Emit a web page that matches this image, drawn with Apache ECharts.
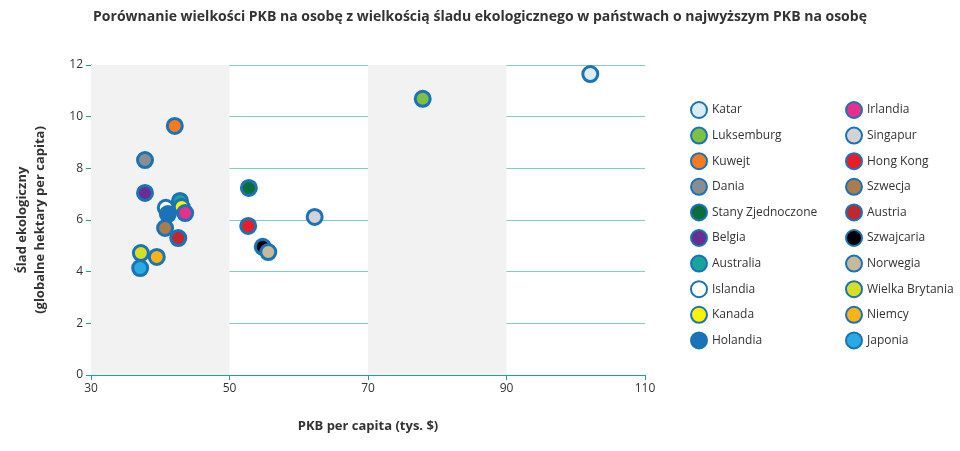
<!DOCTYPE html>
<html><head><meta charset="utf-8">
<script src="https://cdn.jsdelivr.net/npm/echarts@6/dist/echarts.min.js"></script>
<style>html,body{margin:0;padding:0;background:#fff}#c{width:960px;height:451px}</style>
</head><body><div id="c"></div>
<script>
const countries = ['Katar','Luksemburg','Kuwejt','Dania','Stany Zjednoczone','Belgia','Australia','Islandia','Kanada','Holandia','Irlandia','Singapur','Hong Kong','Szwecja','Austria','Szwajcaria','Norwegia','Wielka Brytania','Niemcy','Japonia'];
const gdp = [102.1,77.9,42.1,37.8,52.8,37.8,42.85,40.8,43.1,41.1,43.6,62.3,52.7,40.7,42.6,54.8,55.6,37.2,39.5,37.1];
const footprint = [11.65,10.69,9.64,8.32,7.24,7.05,6.74,6.47,6.5,6.23,6.27,6.12,5.77,5.69,5.3,4.96,4.76,4.72,4.57,4.14];
const fills = ['#dcecf5','#7dc143','#f47b20','#8a8d90','#0b6e3a','#6a2d91','#1aa39a','#ffffff','#fff200','#1a73b8','#e8308a','#d1d3d4','#ed1c24','#a97c50','#c1272d','#000000','#c8b99a','#d7df23','#fbb216','#29abe2'];
const border = '#1a73b8';
const series = countries.map((n,i)=>({
  name:n, type:'scatter', symbolSize:15,
  data:[[gdp[i],footprint[i]]],
  itemStyle:{color:fills[i],borderColor:border,borderWidth:3,opacity:1},
  z: 3+i
}));
series.push({type:'scatter',data:[],markArea:{silent:true,itemStyle:{color:'#f2f2f2'},data:[[{xAxis:30},{xAxis:50}],[{xAxis:70},{xAxis:90}]]},z:1});
const font='Open Sans';
const legendBase={orient:'vertical',itemGap:7.6,itemWidth:16,itemHeight:16,icon:'circle',textStyle:{fontFamily:font,fontSize:12,color:'#333'},top:96};
echarts.init(document.getElementById('c')).setOption({
  animation:false,
  title:{text:'Porównanie wielkości PKB na osobę z wielkością śladu ekologicznego w państwach o najwyższym PKB na osobę',left:'center',top:5,textStyle:{fontFamily:font,fontSize:14,fontWeight:'bold',color:'#333'}},
  legend:[Object.assign({left:685,data:countries.slice(0,10)},legendBase),Object.assign({left:840,data:countries.slice(10)},legendBase)],
  grid:{left:91,right:315,top:65,bottom:76},
  xAxis:{type:'value',min:30,max:110,interval:20,name:'PKB per capita (tys. $)',nameLocation:'middle',nameGap:45,
    nameTextStyle:{fontFamily:font,fontSize:13,fontWeight:'bold',color:'#333'},
    axisLine:{lineStyle:{color:'#1aa39a'}},axisTick:{show:true,lineStyle:{color:'#1aa39a'}},splitLine:{show:false},
    axisLabel:{fontFamily:font,fontSize:12,color:'#333'}},
  yAxis:{type:'value',min:0,max:12,interval:2,name:'Ślad ekologiczny\n(globalne hektary per capita)',nameLocation:'middle',nameGap:42,
    nameTextStyle:{fontFamily:font,fontSize:13,fontWeight:'bold',color:'#333',lineHeight:18},
    axisLine:{show:true,lineStyle:{color:'#1aa39a'}},splitLine:{lineStyle:{color:'#7ccfc8'}},
    axisLabel:{fontFamily:font,fontSize:12,color:'#333'}},
  series
});
</script></body></html>
